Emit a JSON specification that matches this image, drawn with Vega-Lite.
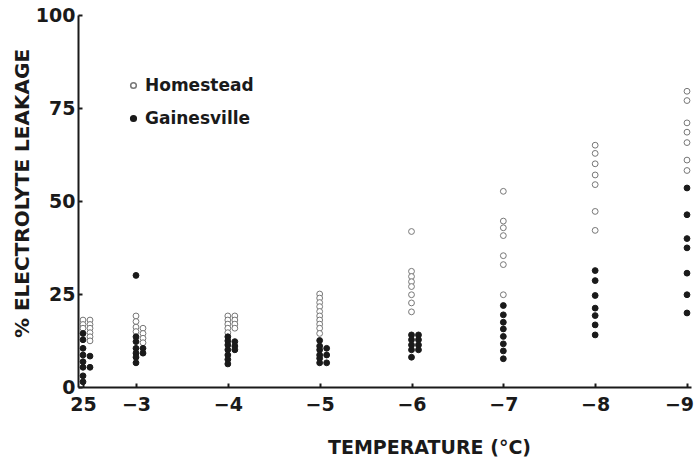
{
  "$schema": "https://vega.github.io/schema/vega-lite/v6.json",
  "width": 612,
  "height": 372,
  "autosize": {"type": "none"},
  "padding": {"left": 78, "top": 15, "right": 5, "bottom": 75},
  "background": "white",
  "config": {
    "view": {"stroke": null},
    "font": "DejaVu Sans",
    "axis": {"grid": false, "domainColor": "#1a1a1a", "tickColor": "#1a1a1a", "labelColor": "#1a1a1a", "titleColor": "#1a1a1a", "labelFont": "DejaVu Sans", "titleFont": "DejaVu Sans", "labelFontWeight": "bold", "titleFontWeight": "bold"}
  },
  "data": {
    "values": [
      {"t": 25, "s": "Homestead", "c": 0, "v": 18.0},
      {"t": 25, "s": "Homestead", "c": 0, "v": 16.8},
      {"t": 25, "s": "Homestead", "c": 0, "v": 15.8},
      {"t": 25, "s": "Homestead", "c": 1, "v": 18.0},
      {"t": 25, "s": "Homestead", "c": 1, "v": 16.8},
      {"t": 25, "s": "Homestead", "c": 1, "v": 15.8},
      {"t": 25, "s": "Homestead", "c": 1, "v": 14.6},
      {"t": 25, "s": "Homestead", "c": 1, "v": 13.5},
      {"t": 25, "s": "Homestead", "c": 1, "v": 12.4},
      {"t": 25, "s": "Gainesville", "c": 0, "v": 14.4},
      {"t": 25, "s": "Gainesville", "c": 0, "v": 12.7},
      {"t": 25, "s": "Gainesville", "c": 0, "v": 10.4},
      {"t": 25, "s": "Gainesville", "c": 0, "v": 8.6},
      {"t": 25, "s": "Gainesville", "c": 0, "v": 6.8},
      {"t": 25, "s": "Gainesville", "c": 0, "v": 5.3},
      {"t": 25, "s": "Gainesville", "c": 0, "v": 3.0},
      {"t": 25, "s": "Gainesville", "c": 0, "v": 1.4},
      {"t": 25, "s": "Gainesville", "c": 1, "v": 8.3},
      {"t": 25, "s": "Gainesville", "c": 1, "v": 5.3},
      {"t": -3, "s": "Homestead", "c": 0, "v": 19.1},
      {"t": -3, "s": "Homestead", "c": 0, "v": 17.6},
      {"t": -3, "s": "Homestead", "c": 0, "v": 16.1},
      {"t": -3, "s": "Homestead", "c": 0, "v": 14.9},
      {"t": -3, "s": "Homestead", "c": 1, "v": 15.8},
      {"t": -3, "s": "Homestead", "c": 1, "v": 14.4},
      {"t": -3, "s": "Homestead", "c": 1, "v": 13.1},
      {"t": -3, "s": "Homestead", "c": 1, "v": 11.9},
      {"t": -3, "s": "Gainesville", "c": 0, "v": 30.0},
      {"t": -3, "s": "Gainesville", "c": 0, "v": 13.5},
      {"t": -3, "s": "Gainesville", "c": 0, "v": 12.2},
      {"t": -3, "s": "Gainesville", "c": 0, "v": 10.4},
      {"t": -3, "s": "Gainesville", "c": 0, "v": 9.1},
      {"t": -3, "s": "Gainesville", "c": 0, "v": 8.0},
      {"t": -3, "s": "Gainesville", "c": 0, "v": 6.5},
      {"t": -3, "s": "Gainesville", "c": 1, "v": 10.4},
      {"t": -3, "s": "Gainesville", "c": 1, "v": 9.1},
      {"t": -4, "s": "Homestead", "c": 0, "v": 19.1},
      {"t": -4, "s": "Homestead", "c": 0, "v": 18.0},
      {"t": -4, "s": "Homestead", "c": 0, "v": 16.9},
      {"t": -4, "s": "Homestead", "c": 0, "v": 15.8},
      {"t": -4, "s": "Homestead", "c": 0, "v": 14.6},
      {"t": -4, "s": "Homestead", "c": 1, "v": 19.1},
      {"t": -4, "s": "Homestead", "c": 1, "v": 18.0},
      {"t": -4, "s": "Homestead", "c": 1, "v": 16.9},
      {"t": -4, "s": "Homestead", "c": 1, "v": 15.8},
      {"t": -4, "s": "Gainesville", "c": 0, "v": 13.5},
      {"t": -4, "s": "Gainesville", "c": 0, "v": 12.4},
      {"t": -4, "s": "Gainesville", "c": 0, "v": 11.3},
      {"t": -4, "s": "Gainesville", "c": 0, "v": 10.0},
      {"t": -4, "s": "Gainesville", "c": 0, "v": 8.6},
      {"t": -4, "s": "Gainesville", "c": 0, "v": 7.4},
      {"t": -4, "s": "Gainesville", "c": 0, "v": 6.2},
      {"t": -4, "s": "Gainesville", "c": 1, "v": 12.2},
      {"t": -4, "s": "Gainesville", "c": 1, "v": 11.0},
      {"t": -4, "s": "Gainesville", "c": 1, "v": 10.0},
      {"t": -5, "s": "Homestead", "c": 0, "v": 25.0},
      {"t": -5, "s": "Homestead", "c": 0, "v": 23.9},
      {"t": -5, "s": "Homestead", "c": 0, "v": 22.7},
      {"t": -5, "s": "Homestead", "c": 0, "v": 21.6},
      {"t": -5, "s": "Homestead", "c": 0, "v": 20.3},
      {"t": -5, "s": "Homestead", "c": 0, "v": 19.1},
      {"t": -5, "s": "Homestead", "c": 0, "v": 18.0},
      {"t": -5, "s": "Homestead", "c": 0, "v": 16.9},
      {"t": -5, "s": "Homestead", "c": 0, "v": 15.8},
      {"t": -5, "s": "Homestead", "c": 0, "v": 14.4},
      {"t": -5, "s": "Gainesville", "c": 0, "v": 12.5},
      {"t": -5, "s": "Gainesville", "c": 0, "v": 11.0},
      {"t": -5, "s": "Gainesville", "c": 0, "v": 10.0},
      {"t": -5, "s": "Gainesville", "c": 0, "v": 8.6},
      {"t": -5, "s": "Gainesville", "c": 0, "v": 7.7},
      {"t": -5, "s": "Gainesville", "c": 0, "v": 6.5},
      {"t": -5, "s": "Gainesville", "c": 1, "v": 10.4},
      {"t": -5, "s": "Gainesville", "c": 1, "v": 8.6},
      {"t": -5, "s": "Gainesville", "c": 1, "v": 6.5},
      {"t": -6, "s": "Homestead", "c": 0, "v": 41.8},
      {"t": -6, "s": "Homestead", "c": 0, "v": 31.1},
      {"t": -6, "s": "Homestead", "c": 0, "v": 29.7},
      {"t": -6, "s": "Homestead", "c": 0, "v": 28.3},
      {"t": -6, "s": "Homestead", "c": 0, "v": 27.0},
      {"t": -6, "s": "Homestead", "c": 0, "v": 24.8},
      {"t": -6, "s": "Homestead", "c": 0, "v": 22.6},
      {"t": -6, "s": "Homestead", "c": 0, "v": 20.2},
      {"t": -6, "s": "Gainesville", "c": 0, "v": 14.0},
      {"t": -6, "s": "Gainesville", "c": 0, "v": 12.7},
      {"t": -6, "s": "Gainesville", "c": 0, "v": 11.3},
      {"t": -6, "s": "Gainesville", "c": 0, "v": 10.0},
      {"t": -6, "s": "Gainesville", "c": 0, "v": 8.0},
      {"t": -6, "s": "Gainesville", "c": 1, "v": 14.0},
      {"t": -6, "s": "Gainesville", "c": 1, "v": 12.7},
      {"t": -6, "s": "Gainesville", "c": 1, "v": 11.3},
      {"t": -6, "s": "Gainesville", "c": 1, "v": 10.0},
      {"t": -7, "s": "Homestead", "c": 0, "v": 52.6},
      {"t": -7, "s": "Homestead", "c": 0, "v": 44.6},
      {"t": -7, "s": "Homestead", "c": 0, "v": 42.8},
      {"t": -7, "s": "Homestead", "c": 0, "v": 40.7},
      {"t": -7, "s": "Homestead", "c": 0, "v": 35.3},
      {"t": -7, "s": "Homestead", "c": 0, "v": 32.9},
      {"t": -7, "s": "Homestead", "c": 0, "v": 24.8},
      {"t": -7, "s": "Gainesville", "c": 0, "v": 21.9},
      {"t": -7, "s": "Gainesville", "c": 0, "v": 19.4},
      {"t": -7, "s": "Gainesville", "c": 0, "v": 17.4},
      {"t": -7, "s": "Gainesville", "c": 0, "v": 15.6},
      {"t": -7, "s": "Gainesville", "c": 0, "v": 13.6},
      {"t": -7, "s": "Gainesville", "c": 0, "v": 11.6},
      {"t": -7, "s": "Gainesville", "c": 0, "v": 9.7},
      {"t": -7, "s": "Gainesville", "c": 0, "v": 7.6},
      {"t": -8, "s": "Homestead", "c": 0, "v": 65.0},
      {"t": -8, "s": "Homestead", "c": 0, "v": 62.8},
      {"t": -8, "s": "Homestead", "c": 0, "v": 60.0},
      {"t": -8, "s": "Homestead", "c": 0, "v": 57.0},
      {"t": -8, "s": "Homestead", "c": 0, "v": 54.4},
      {"t": -8, "s": "Homestead", "c": 0, "v": 47.2},
      {"t": -8, "s": "Homestead", "c": 0, "v": 42.1},
      {"t": -8, "s": "Gainesville", "c": 0, "v": 31.3},
      {"t": -8, "s": "Gainesville", "c": 0, "v": 28.6},
      {"t": -8, "s": "Gainesville", "c": 0, "v": 24.6},
      {"t": -8, "s": "Gainesville", "c": 0, "v": 21.2},
      {"t": -8, "s": "Gainesville", "c": 0, "v": 19.2},
      {"t": -8, "s": "Gainesville", "c": 0, "v": 16.7},
      {"t": -8, "s": "Gainesville", "c": 0, "v": 14.0},
      {"t": -9, "s": "Homestead", "c": 0, "v": 79.5},
      {"t": -9, "s": "Homestead", "c": 0, "v": 77.0},
      {"t": -9, "s": "Homestead", "c": 0, "v": 71.0},
      {"t": -9, "s": "Homestead", "c": 0, "v": 68.5},
      {"t": -9, "s": "Homestead", "c": 0, "v": 65.7},
      {"t": -9, "s": "Homestead", "c": 0, "v": 61.0},
      {"t": -9, "s": "Homestead", "c": 0, "v": 58.2},
      {"t": -9, "s": "Gainesville", "c": 0, "v": 53.5},
      {"t": -9, "s": "Gainesville", "c": 0, "v": 46.3},
      {"t": -9, "s": "Gainesville", "c": 0, "v": 39.9},
      {"t": -9, "s": "Gainesville", "c": 0, "v": 37.4},
      {"t": -9, "s": "Gainesville", "c": 0, "v": 30.6},
      {"t": -9, "s": "Gainesville", "c": 0, "v": 24.8},
      {"t": -9, "s": "Gainesville", "c": 0, "v": 19.9}
    ]
  },
  "encoding": {
    "y": {
      "field": "v", "type": "quantitative",
      "scale": {"domain": [0, 100], "nice": false},
      "axis": {
        "values": [0, 25, 50, 75, 100],
        "title": "% ELECTROLYTE LEAKAGE",
        "titleFontSize": 20, "titleX": -56, "titleY": 178, "titleAlign": "center", "titleBaseline": "middle", "titleAngle": -90,
        "labelFontSize": 19, "labelPadding": 7, "tickSize": -4, "tickWidth": 2, "domainWidth": 2
      }
    },
    "fill": {
      "field": "s", "type": "nominal",
      "scale": {"domain": ["Homestead", "Gainesville"], "range": ["white", "#1a1a1a"]},
      "legend": {"title": null, "orient": "none", "legendX": 47, "legendY": 62, "labelFontSize": 17, "labelFontWeight": "bold", "labelColor": "#1a1a1a", "labelFont": "DejaVu Sans", "rowPadding": 15, "symbolSize": 32, "padding": 0, "labelOffset": 3}
    },
    "stroke": {
      "field": "s", "type": "nominal",
      "scale": {"domain": ["Homestead", "Gainesville"], "range": ["#777777", "#1a1a1a"]},
      "legend": null
    }
  },
  "layer": [
    {
      "transform": [{"filter": "datum.c == 0"}],
      "mark": {"type": "point", "shape": "circle", "size": 34, "strokeWidth": 1, "opacity": 1},
      "encoding": {
        "x": {
          "field": "t", "type": "quantitative",
          "scale": {"domain": [26, 25, -3, -9, -9.04], "range": [0, 5, 58, 609, 613], "nice": false, "zero": false},
          "axis": {
            "values": [25, -3, -4, -5, -6, -7, -8, -9],
            "title": "TEMPERATURE (°C)",
            "titleFontSize": 19, "titleX": 351, "titleY": 60, "titleBaseline": "middle",
            "labelFontSize": 19, "labelPadding": 12, "tickSize": -4, "tickWidth": 2, "domainWidth": 2,
            "labelOffset": {"condition": {"test": "datum.value == -9", "value": -8}, "value": 0}
          }
        }
      }
    },
    {
      "transform": [{"filter": "datum.c == 1"}],
      "mark": {"type": "point", "shape": "circle", "size": 34, "strokeWidth": 1, "opacity": 1},
      "encoding": {
        "x": {
          "field": "t", "type": "quantitative",
          "scale": {"domain": [26, 25, -3, -9, -9.04], "range": [7, 12, 65, 616, 620], "nice": false, "zero": false},
          "axis": null
        }
      }
    }
  ],
  "resolve": {"scale": {"x": "independent"}, "axis": {"x": "independent"}}
}
